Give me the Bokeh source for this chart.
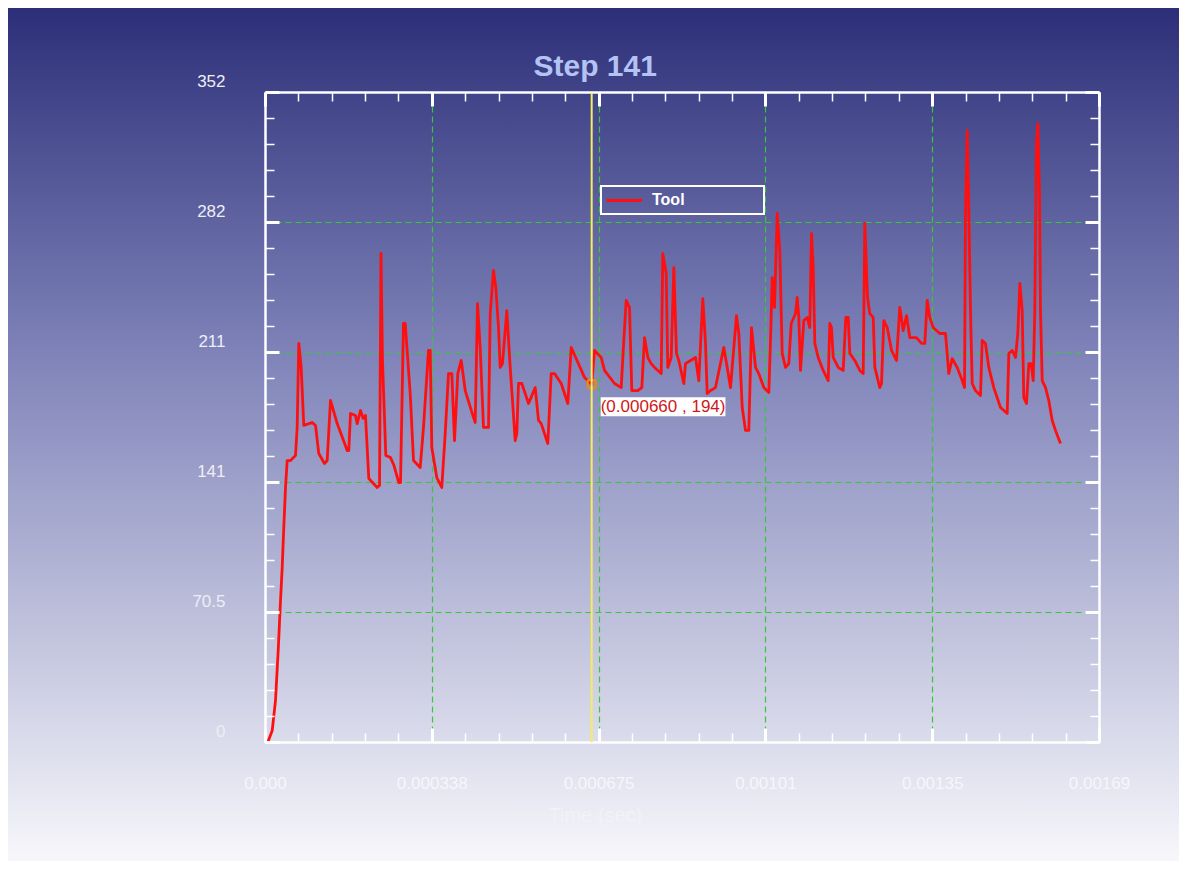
from bokeh.plotting import figure
from bokeh.layouts import column
from bokeh.models import (LinearAxis, FixedTicker, Range1d, Span, Label, Legend,
                          LegendItem, CustomJSTickFormatter, Title)
from bokeh.core.properties import value
from bokeh.embed import file_html
from bokeh.resources import INLINE

# ---------------- data ----------------
title_text = "Step  141"
x_title = "Time (sec)"
series_name = "Tool"

time_us = [4.7, 13.6, 20.2, 25.7, 30.4, 33.8, 37.0, 40.5, 43.9, 50.6, 60.7, 64.1, 67.4, 72.2, 77.5,
           94.5, 101.2, 107.8, 119.4, 124.8, 131.5, 145.1, 165.3, 168.5, 172.0, 182.1, 185.5, 192.2,
           197.7, 202.3, 209.0, 226.0, 230.7, 233.7, 236.7, 243.4, 252.9, 260.0, 269.7, 273.2, 279.2,
           282.7, 292.8, 299.5, 313.0, 319.7, 329.8, 333.3, 336.5, 346.6, 356.7, 363.6, 370.3, 377.0,
           382.4, 389.1, 396.0, 404.1, 420.9, 424.3, 429.0, 434.4, 441.1, 451.2, 454.7, 461.3, 466.0,
           471.5, 474.9, 479.5, 488.3, 495.1, 499.8, 505.2, 508.5, 511.9, 518.6, 532.2, 545.7, 552.4,
           557.9, 571.2, 578.1, 584.8, 598.3, 611.7, 618.6, 645.5, 660.0, 665.7, 679.3, 685.9, 706.2,
           719.7, 725.0, 729.8, 736.5, 741.2, 753.3, 761.4, 766.9, 773.6, 780.4, 787.1, 800.7, 803.9,
           810.8, 814.0, 820.9, 826.2, 831.6, 836.3, 846.4, 849.8, 860.0, 870.1, 876.7, 884.8, 890.3,
           893.7, 900.4, 910.5, 927.3, 934.2, 940.9, 947.6, 953.0, 957.7, 964.6, 971.2, 977.9, 983.4,
           991.5, 998.1, 1008.3, 1018.4, 1021.8, 1025.3, 1029.9, 1035.4, 1040.6, 1045.5, 1052.2,
           1058.8, 1063.7, 1072.4, 1075.8, 1079.1, 1082.5, 1089.2, 1096.1, 1101.3, 1104.8, 1108.2,
           1111.5, 1118.3, 1128.4, 1138.6, 1141.8, 1145.2, 1148.7, 1158.8, 1168.9, 1174.2, 1179.0,
           1182.3, 1192.4, 1202.5, 1209.4, 1212.6, 1218.1, 1222.7, 1229.6, 1232.9, 1243.0, 1246.4,
           1251.1, 1258.0, 1266.7, 1276.8, 1283.4, 1290.3, 1297.0, 1303.7, 1317.2, 1327.4, 1334.0,
           1338.9, 1344.1, 1351.0, 1364.4, 1375.9, 1382.6, 1389.5, 1399.6, 1409.7, 1414.4, 1416.4,
           1419.8, 1423.1, 1426.5, 1429.9, 1436.6, 1446.7, 1450.2, 1456.8, 1463.5, 1473.6, 1487.2,
           1500.8, 1504.0, 1510.9, 1517.6, 1522.2, 1526.3, 1531.1, 1534.3, 1539.8, 1544.5, 1549.3,
           1553.4, 1556.6, 1560.0, 1562.7, 1566.1, 1568.1, 1571.6, 1578.3, 1584.9, 1591.8, 1598.5,
           1608.6]

force = [0.2, 6.5, 22.7, 49.8, 76.9, 94.8, 116.4, 138.1, 152.7, 152.7, 155.4, 170.6, 216.1, 203.1, 171.7,
         173.3, 171.7, 156.5, 151.1, 152.7, 185.2, 172.7, 158.1, 158.1, 178.2, 177.1, 172.7, 179.8,
         175.5, 177.1, 143.0, 138.1, 139.2, 264.8, 206.9, 155.4, 154.3, 150.0, 140.8, 140.8, 226.9,
         226.9, 189.0, 152.7, 148.9, 170.6, 212.3, 212.3, 159.8, 143.5, 138.1, 167.3, 199.8, 199.8,
         163.5, 199.8, 206.9, 190.6, 176.0, 173.3, 237.7, 213.9, 170.6, 170.6, 232.3, 255.6, 246.4,
         224.7, 203.1, 205.2, 233.9, 203.1, 185.2, 163.5, 167.3, 194.4, 194.4, 183.6, 192.2, 174.4,
         172.7, 161.9, 199.8, 199.8, 194.4, 183.6, 213.9, 197.7, 194.0, 212.3, 208.5, 201.5, 194.4,
         192.2, 217.7, 239.4, 235.6, 190.6, 190.6, 192.2, 219.3, 208.5, 205.2, 203.1, 199.8, 264.8,
         254.0, 203.1, 208.5, 257.2, 210.7, 206.9, 194.4, 205.2, 206.9, 208.5, 196.0, 240.4, 216.1,
         189.0, 190.6, 192.2, 213.9, 203.1, 192.2, 213.9, 231.2, 221.5, 181.4, 169.0, 169.0, 224.7,
         203.1, 199.8, 192.2, 189.5, 217.7, 251.8, 235.6, 286.5, 266.4, 210.7, 203.1,
         205.2, 226.9, 232.3, 241.0, 230.2, 201.5, 228.5, 230.2, 224.7, 275.6, 257.2,
         216.1, 208.5, 201.5, 196.0, 226.9, 224.7, 208.5, 203.1, 201.5, 230.2, 230.2,
         210.7, 206.9, 201.5, 199.8, 281.1, 241.0, 232.3, 230.2, 203.1, 192.2, 194.4,
         228.5, 224.7, 212.3, 206.9, 235.6, 223.1, 231.2, 219.3, 219.3, 216.1, 216.1,
         239.4, 230.2, 224.7, 221.5, 221.5, 199.8, 207.9, 203.1, 196.0, 192.2, 288.1,
         331.4, 288.1, 233.9, 194.4, 190.6, 187.9, 217.7, 216.1, 203.1, 192.2, 181.4,
         178.2, 210.7, 212.3, 208.5, 221.5, 248.6, 233.9, 186.8, 183.6, 205.2, 205.2,
         196.0, 233.9, 324.4, 335.2, 297.3, 233.9, 196.0, 192.2, 185.2, 174.4, 169.0,
         161.9]

x_ticks = [0.0, 0.0003375, 0.000675, 0.0010125, 0.00135, 0.0016875]
x_tick_labels = ["0.000", "0.000338", "0.000675", "0.00101", "0.00135", "0.00169"]
y_ticks = [0.0, 70.4, 140.8, 211.2, 281.6, 352.0]
y_tick_labels = ["0", "70.5", "141", "211", "282", "352"]

cursor_time = 0.000660
cursor_value = 194

# orientation triad (decoration): axis names and end points around origin
triad_names = ["Z", "Y", "X"]
triad_ends_x = [32, 51, 22]
triad_ends_y = [45, 15, 17]
triad_text_x = [36, 68, 14]
triad_text_y = [63, 22, 13]
triad_origin = (32, 23)

time_sec = [t / 1e6 for t in time_us]

# minor ticks: 5 sub-intervals per major interval
x_minor = [x_ticks[i] + (x_ticks[i + 1] - x_ticks[i]) * k / 5
           for i in range(len(x_ticks) - 1) for k in range(1, 5)]
y_minor = [y_ticks[i] + (y_ticks[i + 1] - y_ticks[i]) * k / 5
           for i in range(len(y_ticks) - 1) for k in range(1, 5)]

FONT = "Liberation Sans"

p = figure(width=1171, height=853, output_backend="svg", toolbar_location=None,
           x_range=Range1d(x_ticks[0], x_ticks[-1]), y_range=Range1d(y_ticks[0], y_ticks[-1]),
           min_border_left=257, min_border_right=80, min_border_top=84, min_border_bottom=119)
p.background_fill_alpha = 0
p.border_fill_alpha = 0
p.outline_line_color = None
p.styles = {"background": "linear-gradient(to bottom, #2c2f78 0%, #7e82b8 40%, #f7f7fb 100%)",
            "margin": "8px"}

p.title.text = title_text
p.title.align = "left"
p.title.offset = 268
p.title.standoff = 21
p.title.text_font = FONT
p.title.text_font_style = "bold"
p.title.text_font_size = "30px"
p.title.text_color = "#b4c2f4"


def fmt(tv, tl, suffix=""):
    return CustomJSTickFormatter(args=dict(tv=tv, tl=tl, sfx=suffix), code="""
        let best = 0;
        for (let i = 0; i < tv.length; i++) {
            if (Math.abs(tv[i] - tick) < Math.abs(tv[best] - tick)) best = i;
        }
        return tl[best] + sfx;
    """)


def style_axis(ax, ticks, minor):
    ax.ticker = FixedTicker(ticks=ticks, minor_ticks=minor)
    ax.axis_line_color = "white"
    ax.axis_line_width = 2.5
    ax.major_tick_line_color = "white"
    ax.major_tick_line_width = 3
    ax.major_tick_in = 14
    ax.major_tick_out = 0
    ax.minor_tick_line_color = "white"
    ax.minor_tick_line_width = 1.5
    ax.minor_tick_in = 9
    ax.minor_tick_out = 0
    ax.major_label_text_font = FONT
    ax.major_label_text_font_size = "17px"


bx = p.xaxis[0]
style_axis(bx, x_ticks, x_minor)
bx.formatter = fmt(x_ticks, x_tick_labels)
bx.major_label_standoff = 34
bx.major_label_text_color = "#f6f6fa"

ly = p.yaxis[0]
style_axis(ly, y_ticks, y_minor)
ly.formatter = fmt(y_ticks, y_tick_labels, "\n ")
ly.major_label_standoff = 40
ly.major_label_text_color = "#eeeef6"

blank = CustomJSTickFormatter(code="return ''")
top = LinearAxis()
style_axis(top, x_ticks, x_minor)
top.formatter = blank
p.add_layout(top, "above")
right = LinearAxis()
style_axis(right, y_ticks, y_minor)
right.formatter = blank
p.add_layout(right, "right")

p.add_layout(Title(text=x_title, align="left", offset=283, standoff=20, text_font=FONT,
                   text_font_style="normal", text_font_size="20px", text_color="#f2f2f8"),
             "below")

for g, t in ((p.xgrid[0], x_ticks), (p.ygrid[0], y_ticks)):
    g.ticker = FixedTicker(ticks=t)
    g.grid_line_color = "#36c83a"
    g.grid_line_dash = "6 4"
    g.grid_line_width = 1.2

r = p.line(time_sec, force, line_color="#ff1010", line_width=2.8, line_join="round")

p.add_layout(Span(location=cursor_time, dimension="height", line_color="#f4ee5a", line_width=2))
p.scatter([cursor_time], [cursor_value], marker="square", size=8, fill_color=None,
          line_color="#f08a00", line_width=2)
p.add_layout(Label(x=cursor_time, y=cursor_value, x_offset=9, y_offset=-13,
                   text=f"({cursor_time:.6f} , {cursor_value})", text_baseline="top",
                   text_color="#d01818", text_font=FONT, text_font_size="17px",
                   background_fill_color="white", padding=0))

legend = Legend(items=[LegendItem(label=series_name, renderers=[r])], location=(335, 527),
                padding=4, margin=0, glyph_width=36, glyph_height=12, label_height=12,
                label_width=107, label_standoff=10, border_line_color="white",
                border_line_alpha=1.0, border_line_width=2.5, background_fill_alpha=0,
                label_text_color="white", label_text_font=FONT, label_text_font_style="bold",
                label_text_font_size="16px")
p.add_layout(legend)

# ---- orientation triad, drawn in a small transparent figure placed over the corner ----
t = figure(width=90, height=75, frame_width=90, frame_height=75, sizing_mode="fixed",
           output_backend="svg", toolbar_location=None,
           x_range=Range1d(0, 90), y_range=Range1d(0, 75), min_border=0,
           x_axis_location=None, y_axis_location=None,
           styles={"position": "absolute", "left": "985px", "top": "775px"})
t.grid.visible = False
t.background_fill_alpha = 0
t.border_fill_alpha = 0
t.outline_line_color = None
TRIAD = "#cc2a48"
for ex, ey in zip(triad_ends_x, triad_ends_y):
    t.line([triad_origin[0], ex], [triad_origin[1], ey], line_color=TRIAD, line_width=2)
t.text(triad_text_x, triad_text_y, text=triad_names, text_align="center",
       text_baseline="middle", text_font=value(FONT), text_font_size="16px", text_color=TRIAD)

layout = column(p, t)

open("out.html", "w").write(file_html(layout, INLINE))
